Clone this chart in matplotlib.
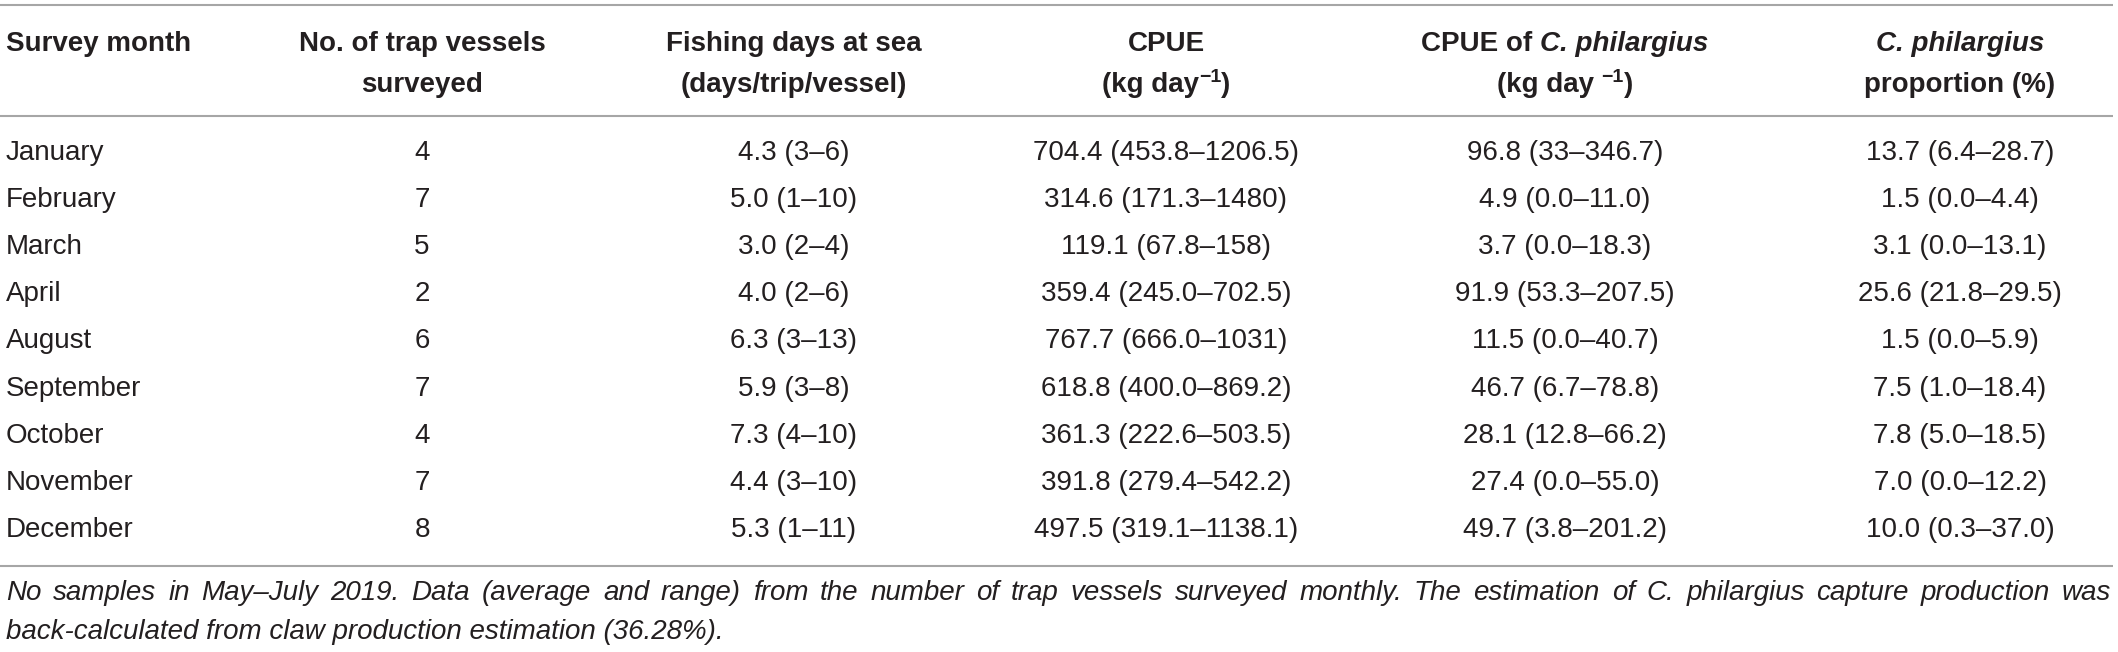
import matplotlib
matplotlib.use("Agg")
import matplotlib.pyplot as plt

# Tabla: capturas de nasas por mes (CPUE y C. philargius)

meses = ["January", "February", "March", "April", "August",
         "September", "October", "November", "December"]
n_barcos = ["4", "7", "5", "2", "6", "7", "4", "7", "8"]
dias_mar = ["4.3 (3–6)", "5.0 (1–10)", "3.0 (2–4)", "4.0 (2–6)", "6.3 (3–13)",
            "5.9 (3–8)", "7.3 (4–10)", "4.4 (3–10)", "5.3 (1–11)"]
cpue = ["704.4 (453.8–1206.5)", "314.6 (171.3–1480)", "119.1 (67.8–158)",
        "359.4 (245.0–702.5)", "767.7 (666.0–1031)", "618.8 (400.0–869.2)",
        "361.3 (222.6–503.5)", "391.8 (279.4–542.2)", "497.5 (319.1–1138.1)"]
cpue_cp = ["96.8 (33–346.7)", "4.9 (0.0–11.0)", "3.7 (0.0–18.3)",
           "91.9 (53.3–207.5)", "11.5 (0.0–40.7)", "46.7 (6.7–78.8)",
           "28.1 (12.8–66.2)", "27.4 (0.0–55.0)", "49.7 (3.8–201.2)"]
proporcion = ["13.7 (6.4–28.7)", "1.5 (0.0–4.4)", "3.1 (0.0–13.1)",
              "25.6 (21.8–29.5)", "1.5 (0.0–5.9)", "7.5 (1.0–18.4)",
              "7.8 (5.0–18.5)", "7.0 (0.0–12.2)", "10.0 (0.3–37.0)"]

nota_1 = ("No samples in May–July 2019. Data (average and range) from the number of trap "
          "vessels surveyed monthly. The estimation of C. philargius capture production was")
nota_2 = "back-calculated from claw production estimation (36.28%)."

FUENTE = "Liberation Sans"
TAM = 20
COLOR = "#231f20"
GRIS = "#a6a6a6"

W, H = 2118, 652
fig = plt.figure(figsize=(W / 100, H / 100), dpi=100)
ax = fig.add_axes([0, 0, 1, 1])
ax.set_xlim(0, W)
ax.set_ylim(H, 0)
ax.axis("off")
renderer = fig.canvas.get_renderer()


def ancho(t):
    return t.get_window_extent(renderer).width


# escribe trozos de texto con estilos distintos, centrados en x
def trozos(x, y, partes):
    objs = []
    for texto, peso, estilo, tam, dy in partes:
        t = ax.text(0, y - dy, texto, fontsize=tam, fontweight=peso, fontstyle=estilo,
                    family=FUENTE, color=COLOR, va="baseline", ha="left")
        objs.append(t)
    total = sum(ancho(t) for t in objs)
    xx = x - total / 2
    for t in objs:
        t.set_x(xx)
        xx += ancho(t)


# lineas horizontales
for yl in [5, 116, 566]:
    ax.plot([0, 2113], [yl, yl], color=GRIS, lw=1.5, solid_capstyle="butt")

# cabecera
x_cols = [422, 794, 1166, 1565, 1960]
y1, y2 = 51, 92
ax.text(6, y1, "Survey month", fontsize=TAM, fontweight="bold", family=FUENTE,
        color=COLOR, va="baseline", ha="left")
trozos(x_cols[0], y1, [("No. of trap vessels", "bold", "normal", TAM, 0)])
trozos(x_cols[0], y2, [("surveyed", "bold", "normal", TAM, 0)])
trozos(x_cols[1], y1, [("Fishing days at sea", "bold", "normal", TAM, 0)])
trozos(x_cols[1], y2, [("(days/trip/vessel)", "bold", "normal", TAM, 0)])
trozos(x_cols[2], y1, [("CPUE", "bold", "normal", TAM, 0)])
trozos(x_cols[2], y2, [("(kg day", "bold", "normal", TAM, 0),
                       ("−1", "bold", "normal", 14, 10),
                       (")", "bold", "normal", TAM, 0)])
trozos(x_cols[3], y1, [("CPUE of ", "bold", "normal", TAM, 0),
                       ("C. philargius", "bold", "italic", TAM, 0)])
trozos(x_cols[3], y2, [("(kg day ", "bold", "normal", TAM, 0),
                       ("−1", "bold", "normal", 14, 10),
                       (")", "bold", "normal", TAM, 0)])
trozos(x_cols[4], y1, [("C. philargius", "bold", "italic", TAM, 0)])
trozos(x_cols[4], y2, [("proportion (%)", "bold", "normal", TAM, 0)])

# filas de datos
y0, paso = 160, 47.1
for i, mes in enumerate(meses):
    y = y0 + i * paso
    ax.text(6, y, mes, fontsize=TAM, family=FUENTE, color=COLOR, va="baseline", ha="left")
    for xc, col in zip(x_cols, [n_barcos, dias_mar, cpue, cpue_cp, proporcion]):
        ax.text(xc, y, col[i], fontsize=TAM, family=FUENTE, color=COLOR,
                va="baseline", ha="center")

# nota al pie, primera linea justificada
palabras = nota_1.split(" ")
yn1, yn2 = 600, 639
objs = [ax.text(0, yn1, p, fontsize=TAM, fontstyle="italic", family=FUENTE,
                color=COLOR, va="baseline", ha="left") for p in palabras]
anchos = [ancho(t) for t in objs]
izq, der = 6, 2111
hueco = (der - izq - sum(anchos)) / (len(objs) - 1)
xx = izq
for t, a in zip(objs, anchos):
    t.set_x(xx)
    xx += a + hueco
ax.text(izq, yn2, nota_2, fontsize=TAM, fontstyle="italic", family=FUENTE,
        color=COLOR, va="baseline", ha="left")

plt.savefig("out.png", dpi=100)
